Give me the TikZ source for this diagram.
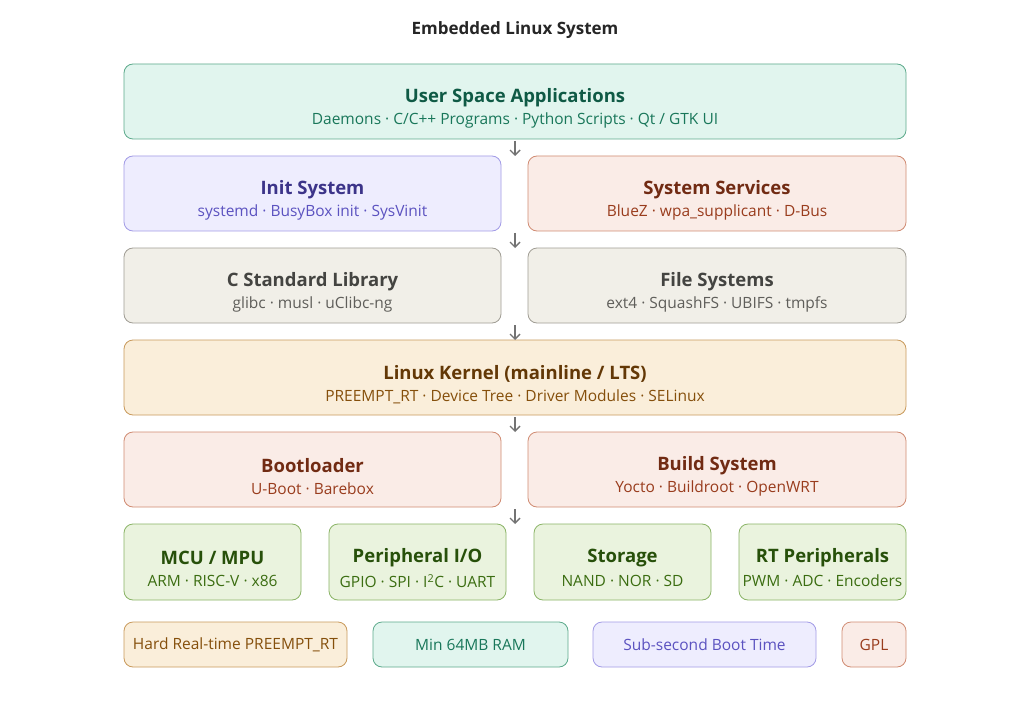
\documentclass[tikz,border=0pt]{standalone}
\usepackage{fontspec}
\setmainfont{Open Sans}
\usetikzlibrary{arrows.meta}
\definecolor{tf}{HTML}{E1F5EE}\definecolor{tb}{HTML}{5DAA8C}\definecolor{tt}{HTML}{0F5A45}\definecolor{ts}{HTML}{19775A}
\definecolor{pf}{HTML}{EEEDFE}\definecolor{pb}{HTML}{A29BE6}\definecolor{pt}{HTML}{3C3489}\definecolor{ps}{HTML}{5B52C0}
\definecolor{sf}{HTML}{FAECE7}\definecolor{sb}{HTML}{D08B72}\definecolor{st}{HTML}{712B13}\definecolor{ss}{HTML}{993C1D}
\definecolor{gf}{HTML}{F1EFE8}\definecolor{gb}{HTML}{A09D94}\definecolor{gt}{HTML}{444441}\definecolor{gs}{HTML}{5F5E5A}
\definecolor{of}{HTML}{FAEEDA}\definecolor{ob}{HTML}{C99A5C}\definecolor{ot}{HTML}{633806}\definecolor{os}{HTML}{854F0B}
\definecolor{ef}{HTML}{EAF3DE}\definecolor{eb}{HTML}{8AB466}\definecolor{et}{HTML}{27500A}\definecolor{es}{HTML}{3B6D11}
\tikzset{x=1pt,y=-1pt,
 box/.style n args={2}{draw=#2,fill=#1,rounded corners=9pt,line width=0.8pt},
 arr/.style={draw=gray!90!black,line width=1.4pt,-{Straight Barb[length=5pt,width=10pt]}}}
\newcommand\bx[9]{\path[box={#6}{#7}] (#2,#3) rectangle (#4,#5);
 \node[inner sep=0] (#1) at ({(#2+#4)/2},{(#3+#5)/2}) {};
 \bxtext{#1}{#8}{#9}}
\newcommand\bxtext[3]{\def\bxn{#1}\def\bxa{#2}\def\bxb{#3}\bxfin}
\newcommand\bxfin[2]{\node[text=\bxa,font=\bfseries\fontsize{18.5}{20}\selectfont] at ([yshift=4]\bxn) {#1};
 \node[text=\bxb,font=\fontsize{15.5}{17}\selectfont] at ([yshift=-19]\bxn) {#2};}
\newcommand\sm[9]{\path[box={#6}{#7}] (#2,#3) rectangle (#4,#5);
 \node[text=#8,font=\fontsize{15.5}{17}\selectfont] (#1) at ({(#2+#4)/2},{(#3+#5)/2}) {#9};}
\begin{document}
\begin{tikzpicture}
\path[fill=white] (0,0) rectangle (1024,703);
\node[font=\bfseries\fontsize{17}{19}\selectfont,text=black!85] (title) at (515,30) {Embedded Linux System};
\bx{usr}{124}{64}{906}{139}{tf}{tb}{tt}{ts}{User Space Applications}{Daemons · C/C++ Programs · Python Scripts · Qt / GTK UI}
\bx{init}{124}{156}{501}{231}{pf}{pb}{pt}{ps}{Init System}{systemd · BusyBox init · SysVinit}
\bx{svc}{528}{156}{906}{231}{sf}{sb}{st}{ss}{System Services}{BlueZ · wpa\_supplicant · D-Bus}
\bx{clib}{124}{248}{501}{323}{gf}{gb}{gt}{gs}{C Standard Library}{glibc · musl · uClibc-ng}
\bx{fs}{528}{248}{906}{323}{gf}{gb}{gt}{gs}{File Systems}{ext4 · SquashFS · UBIFS · tmpfs}
\bx{kern}{124}{340}{906}{415}{of}{ob}{ot}{os}{Linux Kernel (mainline / LTS)}{PREEMPT\_RT · Device Tree · Driver Modules · SELinux}
\bx{boot}{124}{432}{501}{507}{sf}{sb}{st}{ss}{Bootloader}{U-Boot · Barebox}
\bx{build}{528}{432}{906}{507}{sf}{sb}{st}{ss}{Build System}{Yocto · Buildroot · OpenWRT}
\bx{mcu}{124}{524}{301}{600}{ef}{eb}{et}{es}{MCU / MPU}{ARM · RISC-V · x86}
\bx{pio}{329}{524}{506}{600}{ef}{eb}{et}{es}{Peripheral I/O}{GPIO · SPI · I\textsuperscript{2}C · UART}
\bx{stor}{534}{524}{711}{600}{ef}{eb}{et}{es}{Storage}{NAND · NOR · SD}
\bx{rt}{739}{524}{906}{600}{ef}{eb}{et}{es}{RT Peripherals}{PWM · ADC · Encoders}
\sm{n1}{124}{622}{347}{667}{of}{ob}{os}{Hard Real-time PREEMPT\_RT}
\sm{n2}{373}{622}{568}{667}{tf}{tb}{ts}{Min 64MB RAM}
\sm{n3}{593}{622}{816}{667}{pf}{pb}{ps}{Sub-second Boot Time}
\sm{n4}{842}{622}{906}{667}{sf}{sb}{ss}{GPL}
\coordinate (a1) at (515,141);\coordinate (b1) at (515,156);
\coordinate (a2) at (515,233);\coordinate (b2) at (515,248);
\coordinate (a3) at (515,325);\coordinate (b3) at (515,340);
\coordinate (a4) at (515,417);\coordinate (b4) at (515,432);
\coordinate (a5) at (515,509);\coordinate (b5) at (515,524);
\foreach \i in {1,...,5} \draw[arr] (a\i) -- (b\i);
\end{tikzpicture}
\end{document}
